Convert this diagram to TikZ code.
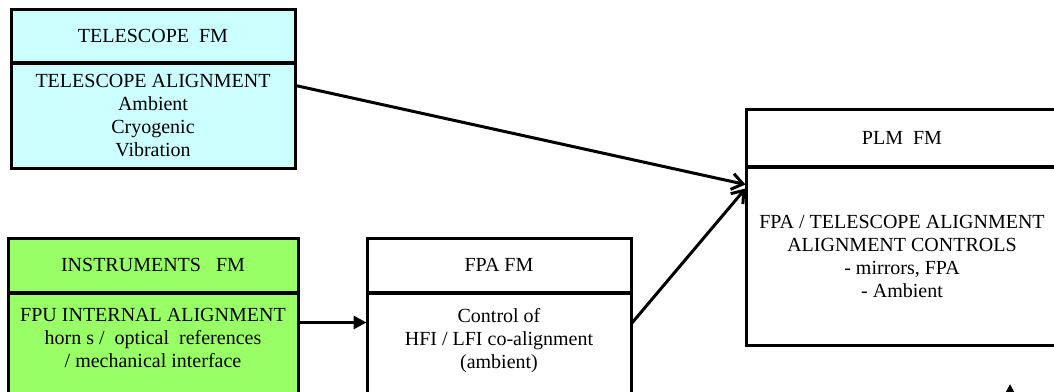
\documentclass[tikz,border=0pt]{standalone}
\usepackage{fontspec}
\setmainfont{Liberation Serif}
\usetikzlibrary{arrows.meta,positioning}

\definecolor{scopecyan}{RGB}{204,255,255}
\definecolor{instgreen}{RGB}{153,255,102}

\begin{document}
\begin{tikzpicture}[
  x=1pt, y=-1pt,
  node distance=0pt,
  font=\fontsize{20}{23}\selectfont,
  head/.style={draw, line width=3pt, outer sep=0.5pt, align=center, inner sep=0pt},
  body/.style={draw, line width=3pt, outer sep=0.5pt, align=center, inner sep=0pt},
  note/.style={align=center, inner sep=0pt},
  arr/.style={-{Straight Barb[length=11pt,width=16pt]}, line width=3pt},
  feed/.style={-{Triangle[length=13pt,width=13pt]}, line width=3pt}
]
\useasboundingbox (0,0) rectangle (1054,391);
\clip (0,0) rectangle (1054,391);

% Telescope
\node[head, fill=scopecyan, minimum width=284pt, minimum height=53pt] (scopehead) at (153,35.5) {TELESCOPE~ FM};
\node[body, fill=scopecyan, minimum width=284pt, minimum height=105pt, below=of scopehead] (scopebody)
  {TELESCOPE ALIGNMENT\\Ambient\\Cryogenic\\Vibration};

% Instruments (runs off the bottom)
\node[head, fill=instgreen, minimum width=290pt, minimum height=54pt] (inshead) at (153,265) {INSTRUMENTS~~ FM};
\node[body, fill=instgreen, minimum width=290pt, minimum height=150pt, below=of inshead] (insbody) {};
\node[note, below=16pt of inshead] (insnote)
  {FPU INTERNAL ALIGNMENT\\horn s /~ optical~ references\\/ mechanical interface};

% FPA
\node[head, minimum width=264pt, minimum height=54pt] (fpahead) at (499,265) {FPA FM};
\node[body, minimum width=264pt, minimum height=150pt, below=of fpahead] (fpabody) {};
\node[note, below=16pt of fpahead] (fpanote)
  {Control of\\HFI / LFI co-alignment\\(ambient)};

% PLM
\node[head, minimum width=312pt, minimum height=57pt] (plmhead) at (902,137.5) {PLM~ FM};
\node[body, minimum width=312pt, minimum height=178pt, below=of plmhead] (plmbody)
  {FPA / TELESCOPE ALIGNMENT\\ALIGNMENT CONTROLS\\- mirrors, FPA\\- Ambient};

% Arrows
\draw[arr] ([yshift=-23pt]scopebody.north east) -- ([yshift=-18pt]plmbody.north west);
\draw[arr] ([yshift=-31pt]fpabody.north east) -- ([yshift=-22pt]plmbody.north west);
\draw[feed] ([yshift=-30pt]insbody.north east) -- ([yshift=-30pt]fpabody.north west);

% incoming from below
\coordinate (upfoot) at (1010,440);
\coordinate (uptip) at (1010,384);
\draw[feed] (upfoot) -- (uptip);

\end{tikzpicture}
\end{document}
